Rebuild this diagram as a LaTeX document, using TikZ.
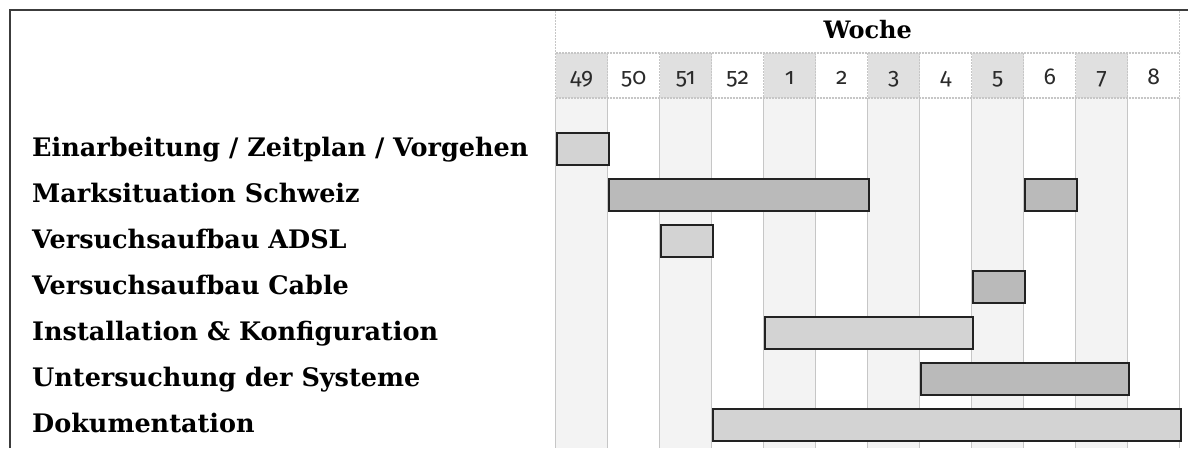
\documentclass[tikz,border=0pt]{standalone}
\usepackage{fontspec}
\newfontfamily\labelfont{DejaVu Serif}
\newfontfamily\digitfont{Fira Sans}[Numbers=OldStyle]
\definecolor{shadehead}{HTML}{E0E0E0}
\definecolor{shadebody}{HTML}{F3F3F3}
\definecolor{gridc}{HTML}{C6C6C6}
\definecolor{barlight}{HTML}{D3D3D3}
\definecolor{bardark}{HTML}{BABABA}
\definecolor{framec}{HTML}{3C3C3C}
\definecolor{barline}{HTML}{222222}
\definecolor{digitc}{HTML}{2A2A2A}
\tikzset{
  tasklabel/.style={anchor=base west, inner sep=0pt, font=\labelfont\bfseries\fontsize{25.5}{28}\selectfont},
  headlabel/.style={anchor=base, inner sep=0pt, font=\labelfont\bfseries\fontsize{24}{27}\selectfont},
  weeklabel/.style={anchor=base, inner sep=0pt, text=digitc, font=\digitfont\fontsize{23}{25}\selectfont},
  taskbar/.style={draw=barline, line width=1.8pt, anchor=north west, inner sep=0pt, minimum height=32pt},
  lightbar/.style={taskbar, fill=barlight},
  darkbar/.style={taskbar, fill=bardark},
  headgrid/.style={gridc, line width=1.2pt, dash pattern=on 2pt off 1pt},
  bodygrid/.style={gridc, line width=1.4pt}
}
\begin{document}
\begin{tikzpicture}[x=1pt,y=-1pt]
\useasboundingbox (0,0) rectangle (1188,448);
\fill[white] (0,0) rectangle (1188,448);
% shaded columns
\foreach \i in {0,2,4,6,8,10} {
  \fill[shadehead] ({555.7+52*\i},53) rectangle ({555.7+52*(\i+1)},98);
  \fill[shadebody] ({555.7+52*\i},98) rectangle ({555.7+52*(\i+1)},448);
}
% grid
\foreach \i in {0,...,12} {
  \draw[bodygrid] ({555.7+52*\i},98) -- ({555.7+52*\i},448);
  \draw[headgrid] ({555.7+52*\i},53) -- ({555.7+52*\i},98);
}
\draw[headgrid] (555.7,11) -- (555.7,53);
\draw[headgrid] (1179.7,11) -- (1179.7,53);
\draw[headgrid] (555.7,53) -- (1179.7,53);
\draw[headgrid] (555.7,98) -- (1179.7,98);
% header
\node[headlabel] (woche) at (867.7,38) {Woche};
\foreach \lab [count=\i from 0] in {49,50,51,52,1,2,3,4,5,6,7,8} {
  \node[weeklabel] (w\lab) at ({555.7+52*\i+26},84) {\lab};
}
% task labels
\node[tasklabel] (t1) at (32,156) {Einarbeitung / Zeitplan / Vorgehen};
\node[tasklabel] (t2) at (32,202) {Marksituation Schweiz};
\node[tasklabel] (t3) at (32,248) {Versuchsaufbau ADSL};
\node[tasklabel] (t4) at (32,294) {Versuchsaufbau Cable};
\node[tasklabel] (t5) at (32,340) {Installation \& Konfiguration};
\node[tasklabel] (t6) at (32,386) {Untersuchung der Systeme};
\node[tasklabel] (t7) at (32,432) {Dokumentation};
% bars
\node[lightbar, minimum width=52pt] (b1) at (555.7,132) {};
\node[darkbar, minimum width=260pt] (b2) at (607.7,178) {};
\node[darkbar, minimum width=52pt] (b2b) at (1023.7,178) {};
\node[lightbar, minimum width=52pt] (b3) at (659.7,224) {};
\node[darkbar, minimum width=52pt] (b4) at (971.7,270) {};
\node[lightbar, minimum width=208pt] (b5) at (763.7,316) {};
\node[darkbar, minimum width=208pt] (b6) at (919.7,362) {};
\node[lightbar, minimum width=468pt] (b7) at (711.7,408) {};
% frame
\draw[framec, line width=2.2pt] (10,448) -- (10,10) -- (1188,10);
\end{tikzpicture}
\end{document}
